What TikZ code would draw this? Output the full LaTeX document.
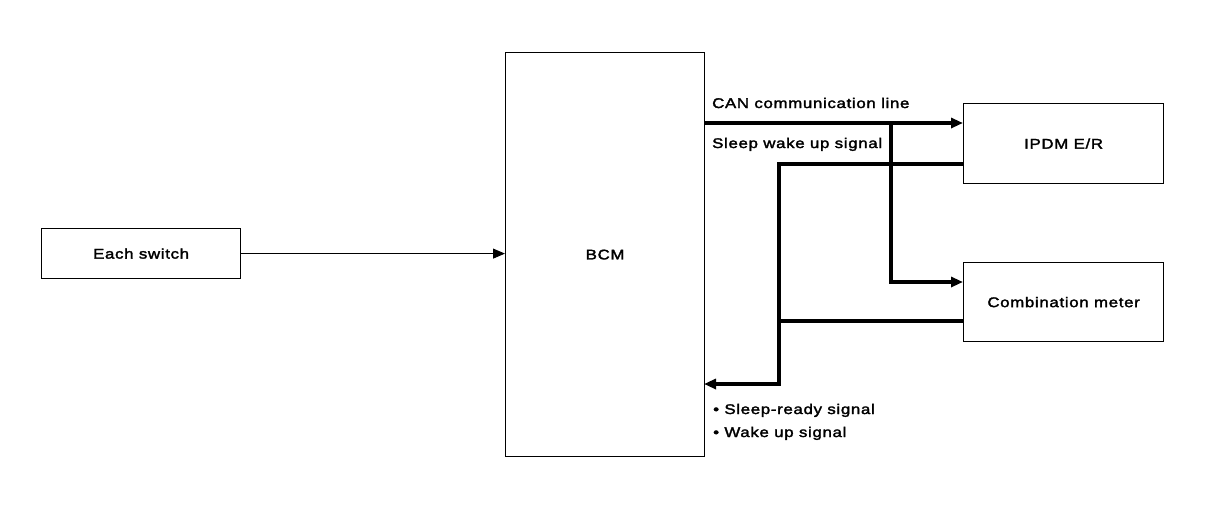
\documentclass[tikz,border=0pt]{standalone}
\usepackage{fontspec}
\setmainfont{Liberation Sans}
\newfontfamily\diafont[FakeStretch=1.2,LetterSpace=5,FakeBold=2.2]{Liberation Sans}
\usetikzlibrary{arrows.meta}
\begin{document}
\begin{tikzpicture}[x=1pt,y=-1pt,
  blk/.style={draw,line width=1.2pt,inner sep=0pt,anchor=north west},
  txt/.style={font=\diafont\fontsize{14}{16}\selectfont},
  lbl/.style={anchor=base west,inner sep=0pt,font=\diafont\fontsize{14}{16}\selectfont},
  thickline/.style={line width=3.6pt},
  thinline/.style={line width=1pt},
  tip/.style={-{Triangle[length=12pt,width=10pt]}}]
\useasboundingbox (0,0) rectangle (1216,512);
\node[blk,minimum width=199pt,minimum height=50pt] (sw) at (41,228) {};
\node[txt] at (sw.center) {Each switch};
\node[blk,minimum width=199pt,minimum height=404pt] (bcm) at (505,52) {};
\node[txt] at (bcm.center) {BCM};
\node[blk,minimum width=200pt,minimum height=80pt] (ipdm) at (963,103) {};
\node[txt] at (ipdm.center) {IPDM E/R};
\node[blk,minimum width=200pt,minimum height=79pt] (meter) at (963,262) {};
\node[txt] at (meter.center) {Combination meter};

\coordinate (canS) at (704,123);
\coordinate (canE) at (963,123);
\coordinate (jA) at (891,123);
\coordinate (jB) at (891,282);
\coordinate (mE) at (963,282);
\coordinate (sI) at (963,164);
\coordinate (sC) at (779,164);
\coordinate (sD) at (779,384);
\coordinate (sB) at (704,384);
\coordinate (mI) at (963,321);
\coordinate (mC) at (779,321);

\draw[thinline,tip] (sw.east) -- (sw.east -| bcm.west);
\draw[thickline,tip] (canS) -- (canE);
\draw[thickline,tip] (jA) -- (jB) -- (mE);
\draw[thickline,tip] (sI) -- (sC) -- (sD) -- (sB);
\draw[thickline] (mI) -- (mC);

\node[lbl] (t1) at (712,108) {CAN communication line};
\node[lbl] (t2) at (712,148) {Sleep wake up signal};
\node[lbl] (t3) at (713,414) {• Sleep-ready signal};
\node[lbl] (t4) at (713,437) {• Wake up signal};
\end{tikzpicture}
\end{document}
